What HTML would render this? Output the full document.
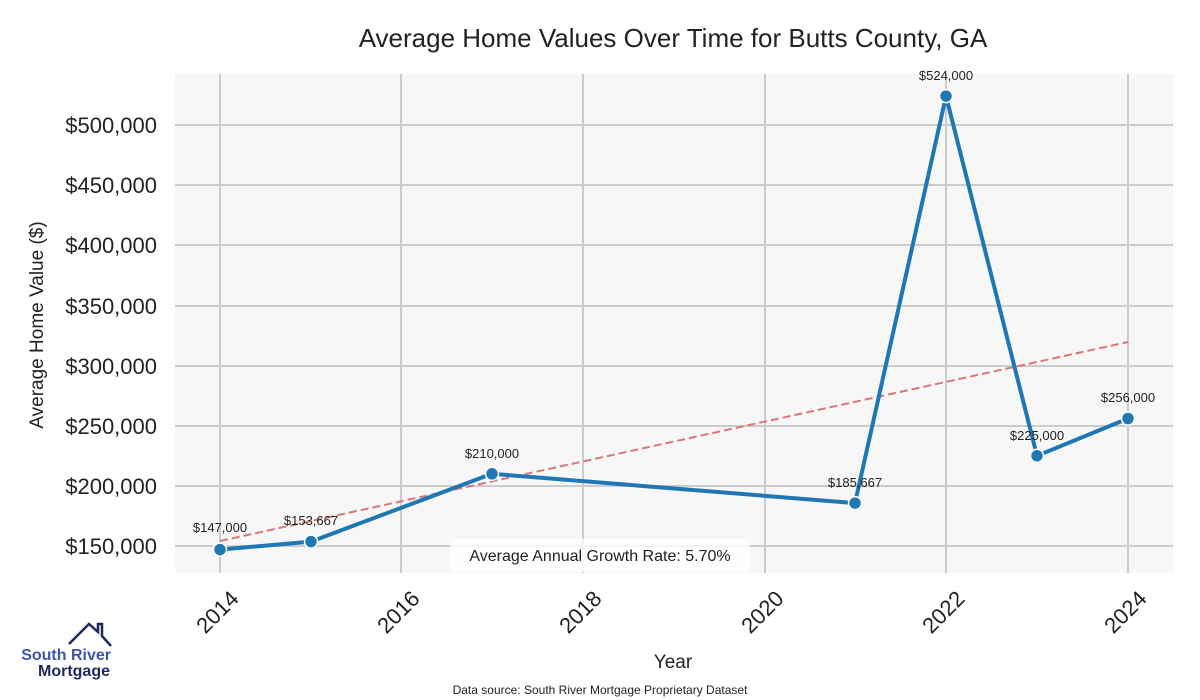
<!DOCTYPE html>
<html><head><meta charset="utf-8"><style>body{margin:0;background:#fff}svg{display:block}text{font-family:"Liberation Sans",sans-serif}</style></head><body>
<svg width="1200" height="700" viewBox="0 0 1200 700">
<rect width="1200" height="700" fill="#fff"/>
<rect x="175" y="74" width="998" height="499" fill="#f7f7f7"/>
<g stroke="#cccccc" stroke-width="2">
<line x1="220" y1="74" x2="220" y2="573"/><line x1="401" y1="74" x2="401" y2="573"/><line x1="583" y1="74" x2="583" y2="573"/><line x1="765" y1="74" x2="765" y2="573"/><line x1="946" y1="74" x2="946" y2="573"/><line x1="1128" y1="74" x2="1128" y2="573"/>
<line x1="175" y1="546" x2="1173" y2="546"/><line x1="175" y1="486" x2="1173" y2="486"/><line x1="175" y1="426" x2="1173" y2="426"/><line x1="175" y1="366" x2="1173" y2="366"/><line x1="175" y1="306" x2="1173" y2="306"/><line x1="175" y1="245" x2="1173" y2="245"/><line x1="175" y1="185" x2="1173" y2="185"/><line x1="175" y1="125" x2="1173" y2="125"/>
</g>
<g font-size="22" fill="#222" text-anchor="end">
<text x="157" y="554">$150,000</text><text x="157" y="494">$200,000</text><text x="157" y="434">$250,000</text><text x="157" y="374">$300,000</text><text x="157" y="314">$350,000</text><text x="157" y="253">$400,000</text><text x="157" y="193">$450,000</text><text x="157" y="133">$500,000</text>
</g>
<g font-size="22" fill="#222" text-anchor="end">
<text transform="translate(240,600) rotate(-45)">2014</text><text transform="translate(421,600) rotate(-45)">2016</text><text transform="translate(603,600) rotate(-45)">2018</text><text transform="translate(785,600) rotate(-45)">2020</text><text transform="translate(966,600) rotate(-45)">2022</text><text transform="translate(1148,600) rotate(-45)">2024</text>
</g>
<text x="673" y="47" font-size="26" fill="#222" text-anchor="middle">Average Home Values Over Time for Butts County, GA</text>
<text x="673" y="668" font-size="19" fill="#222" text-anchor="middle">Year</text>
<text transform="translate(43,325) rotate(-90)" font-size="19" fill="#222" text-anchor="middle">Average Home Value ($)</text>
<text x="600" y="694" font-size="12" fill="#222" text-anchor="middle">Data source: South River Mortgage Proprietary Dataset</text>
<line x1="220" y1="541" x2="1128" y2="342" stroke="#d9777c" stroke-width="2" stroke-dasharray="8,4"/>
<polyline points="220,549.6 311,541.6 492,473.8 855,503.1 946,96.1 1037,455.8 1128,418.5" fill="none" stroke="#1f77b4" stroke-width="4" stroke-linejoin="round"/>
<g fill="#1f77b4" stroke="#fff" stroke-width="1.5">
<circle cx="220" cy="549.6" r="6.5"/><circle cx="311" cy="541.6" r="6.5"/><circle cx="492" cy="473.8" r="6.5"/><circle cx="855" cy="503.1" r="6.5"/><circle cx="946" cy="96.1" r="6.5"/><circle cx="1037" cy="455.8" r="6.5"/><circle cx="1128" cy="418.5" r="6.5"/>
</g>
<g font-size="13" fill="#222" text-anchor="middle">
<text x="220" y="532">$147,000</text><text x="311" y="525">$153,667</text><text x="492" y="458">$210,000</text><text x="855" y="487">$185,667</text><text x="946" y="80">$524,000</text><text x="1037" y="440">$225,000</text><text x="1128" y="402">$256,000</text>
</g>
<rect x="450" y="539" width="300" height="33" rx="6" fill="#fff" fill-opacity="0.8"/>
<text x="600" y="561" font-size="16" fill="#222" text-anchor="middle">Average Annual Growth Rate: 5.70%</text>
<polyline points="69,644 89,624 98,632 98,624 102,624 102,636 111,646" fill="none" stroke="#1e2a5e" stroke-width="2.5"/>
<text x="111" y="660" font-size="16" font-weight="bold" fill="#3d55a8" text-anchor="end">South River</text>
<text x="110" y="676" font-size="16" font-weight="bold" fill="#1e2a5e" text-anchor="end">Mortgage</text>
</svg>
</body></html>
